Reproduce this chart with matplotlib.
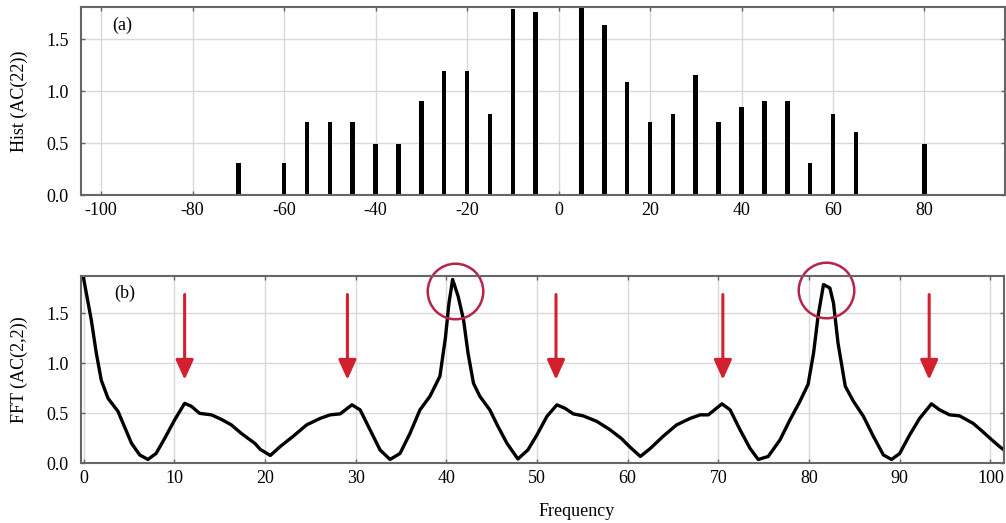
import matplotlib
matplotlib.use('Agg')
import matplotlib.pyplot as plt
from matplotlib.ticker import FormatStrFormatter

plt.rcParams['font.family'] = ['Liberation Serif', 'DejaVu Serif']
plt.rcParams['axes.unicode_minus'] = False

# (a) histogram of AC(22)
hist_x = [-70, -60, -55, -50, -45, -40, -35, -30, -25, -20, -15, -10, -5,
          5, 10, 15, 20, 25, 30, 35, 40, 45, 50, 55, 60, 65, 80]
hist_y = [0.31, 0.31, 0.70, 0.70, 0.70, 0.49, 0.49, 0.91, 1.19, 1.19, 0.78, 1.79, 1.76,
          1.81, 1.64, 1.09, 0.70, 0.78, 1.16, 0.70, 0.85, 0.91, 0.91, 0.31, 0.78, 0.61, 0.49]

# (b) FFT of AC(2,2)
fft_x = [0.0, 0.86, 1.41, 1.96, 2.7, 3.8, 4.5, 5.3, 6.2, 7.1, 8.0, 8.95, 10.05,
         11.15, 11.9, 12.8, 14.1, 15.2, 16.3, 17.4, 18.9, 19.5, 20.6, 21.7, 23.1,
         24.6, 26.1, 27.2, 28.3, 29.6, 30.5, 31.6, 32.7, 33.8, 34.9, 36.0, 37.1,
         38.2, 39.3, 39.9, 40.3, 40.7, 41.3, 41.9, 42.4, 43.0, 43.7, 44.8, 45.7,
         46.7, 47.9, 49.0, 50.0, 51.1, 52.2, 53.1, 54.0, 55.1, 56.6, 58.0, 59.3,
         60.3, 61.4, 62.5, 63.9, 65.4, 66.9, 68.0, 68.9, 70.4, 71.3, 72.4, 73.5,
         74.4, 75.5, 76.8, 77.9, 79.0, 79.9, 80.5, 81.0, 81.6, 82.3, 82.7, 83.2,
         84.0, 84.9, 86.0, 87.1, 88.2, 89.1, 90.0, 91.1, 92.2, 93.5, 94.4, 95.5,
         96.6, 98.1, 99.0, 100.1, 101.0, 101.7]
fft_y = [1.85, 1.43, 1.10, 0.83, 0.65, 0.52, 0.37, 0.20, 0.085, 0.04, 0.10, 0.25, 0.435,
         0.60, 0.57, 0.50, 0.485, 0.44, 0.385, 0.30, 0.20, 0.14, 0.08, 0.17, 0.27,
         0.385, 0.45, 0.485, 0.495, 0.585, 0.535, 0.335, 0.135, 0.04, 0.10, 0.30, 0.535,
         0.67, 0.87, 1.25, 1.60, 1.835, 1.67, 1.435, 1.10, 0.80, 0.67, 0.535, 0.37,
         0.20, 0.045, 0.135, 0.285, 0.47, 0.585, 0.55, 0.495, 0.475, 0.42, 0.34, 0.25,
         0.16, 0.07, 0.15, 0.27, 0.385, 0.45, 0.485, 0.485, 0.595, 0.535, 0.335, 0.15,
         0.04, 0.07, 0.235, 0.435, 0.62, 0.79, 1.10, 1.47, 1.785, 1.75, 1.60, 1.20,
         0.77, 0.62, 0.47, 0.27, 0.085, 0.04, 0.10, 0.285, 0.45, 0.595, 0.535, 0.485,
         0.475, 0.40, 0.33, 0.24, 0.17, 0.12]

# annotations: red arrows over the side peaks, circles round the main peaks
arrow_x = [11.15, 29.1, 52.1, 70.5, 93.25]
arrow_top, arrow_tip = 1.685, 0.835
circle_x = [40.96, 81.9]
circle_y = [1.72, 1.735]

spine_col = '#666666'
grid_col = '#d9d9d9'


def style_axes(ax):
    ax.grid(True, color=grid_col, lw=1.0)
    ax.set_axisbelow(True)
    for s in ax.spines.values():
        s.set_color(spine_col)
        s.set_linewidth(1.5)
    ax.tick_params(direction='in', length=3, width=1, color=spine_col,
                   top=True, right=True, labelsize=13)
    ax.tick_params(axis='x', pad=5)
    ax.tick_params(axis='y', pad=9)
    ax.yaxis.set_major_formatter(FormatStrFormatter('%.1f'))
    ax.set_yticks([0.0, 0.5, 1.0, 1.5])


fig = plt.figure(figsize=(10.06, 5.23), dpi=100)
ax1 = fig.add_axes([0.0805, 0.627, 0.9185, 0.3595])
ax2 = fig.add_axes([0.0805, 0.1138, 0.9175, 0.3585])

# top panel
ax1.bar(hist_x, hist_y, width=1.0, color='black')
ax1.set_xlim(-104.4, 97.6)
ax1.set_ylim(0, 1.81)
ax1.set_xticks(range(-100, 81, 20))
style_axes(ax1)
ax1.set_ylabel('Hist (AC(22))', fontsize=13)
ax1.yaxis.set_label_coords(-0.057, 0.5)
ax1.text(0.045, 0.904, '(a)', transform=ax1.transAxes, fontsize=13,
         ha='center', va='center')

# bottom panel
ax2.plot(fft_x, fft_y, color='black', lw=2.4, solid_joinstyle='round')
ax2.set_xlim(-0.28, 101.5)
ax2.set_ylim(0, 1.87)
ax2.set_xticks(range(0, 101, 10))
style_axes(ax2)
ax2.set_ylabel('FFT (AC(2,2))', fontsize=13)
ax2.yaxis.set_label_coords(-0.057, 0.5)
ax2.set_xlabel('Frequency', fontsize=13)
ax2.xaxis.set_label_coords(0.537, -0.21)
ax2.text(0.047, 0.908, '(b)', transform=ax2.transAxes, fontsize=13,
         ha='center', va='center')

for x in arrow_x:
    ax2.annotate('', xy=(x, arrow_tip), xytext=(x, arrow_top),
                 arrowprops=dict(arrowstyle='-|>,head_length=0.6,head_width=0.27',
                                 mutation_scale=20, color='#d3202f', lw=2.2,
                                 shrinkA=0, shrinkB=0))

ax2.plot(circle_x, circle_y, 'o', ms=40, mfc='none', mec='#b8234a', mew=1.8,
         clip_on=False)

fig.savefig('out.png', dpi=100)
plt.close(fig)
